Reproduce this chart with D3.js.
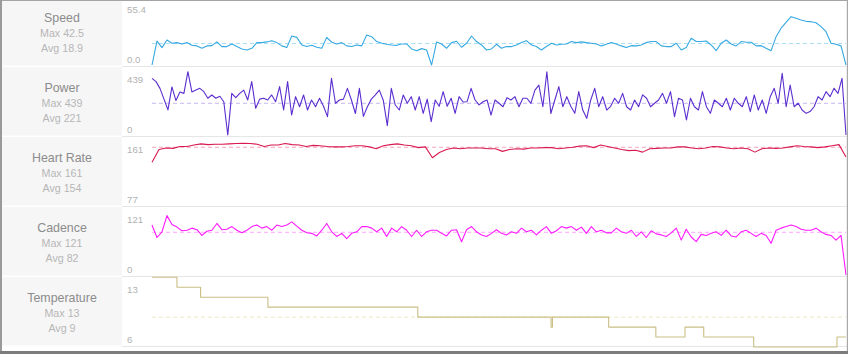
<!DOCTYPE html>
<html>
<head>
<meta charset="utf-8">
<script src="https://cdn.jsdelivr.net/npm/d3@7"></script>
<style>
  html, body { margin: 0; padding: 0; background: #fff; }
  svg { display: block; font-family: "Liberation Sans", Arial, sans-serif; }
</style>
</head>
<body>
<svg id="chart" width="848" height="354"></svg>
<script>
// panel labels
const metricNames = ["Speed", "Power", "Heart Rate", "Cadence", "Temperature"];
const maxLabels = ["Max 42.5", "Max 439", "Max 161", "Max 121", "Max 13"];
const avgLabels = ["Avg 18.9", "Avg 221", "Avg 154", "Avg 82", "Avg 9"];
const axisTop = ["55.4", "439", "161", "121", "13"];
const axisBottom = ["0.0", "0", "77", "0", "6"];
const domains = [[0, 55.4], [0, 439], [77, 161], [0, 121], [6, 13]];
const averages = [18.9, 221, 154, 82, 9];

// samples, equally spaced over the ride
const speedValues = [
  0, 21, 15.3, 22, 19.1, 19.7, 18.5, 19.7, 17.3, 16.8,
  14.7, 16.8, 17, 20.3, 16.2, 16.2, 18.5, 16.2, 14.1, 13.2,
  14.7, 19.7, 19.7, 20.3, 21.4, 19.7, 16.8, 15.3, 25.5, 24.3,
  17.6, 16.2, 17.3, 15.6, 14.7, 24.3, 20, 18.5, 19.7, 16.8,
  16.2, 17.6, 16.8, 26.4, 24.9, 20.6, 19.1, 18.2, 17.6, 17.3,
  18.5, 18.5, 14.1, 12.6, 14.4, 13.2, 0, 20.3, 18.5, 14.7,
  19.7, 20.9, 15.6, 19.1, 25.5, 20.6, 17.6, 13.2, 14.1, 18.2,
  14.7, 16.2, 16.2, 17.6, 19.7, 21.4, 17.6, 16.2, 13.2, 16.2,
  19.1, 17.6, 18.2, 18.5, 20.6, 19.7, 20.3, 19.7, 19.1, 18.5,
  16.8, 18.2, 19.7, 18.5, 16.8, 15.3, 17, 16.8, 17.6, 19.7,
  20.6, 20.6, 16.8, 16.2, 16.2, 19.1, 13.2, 15.3, 23.5, 20.6,
  20.6, 21.1, 17.6, 12.6, 19.1, 22, 18.5, 16.8, 20.6, 20,
  20, 16.8, 17, 14.7, 12.6, 24.9, 32.4, 37.5, 42.5, 41.1,
  39.6, 38.4, 38.1, 37.2, 33.7, 29.3, 19.1, 18.2, 16.8, 0
];

const powerValues = [
  395, 372, 325, 250, 175, 335, 240, 300, 290, 441,
  300, 313, 325, 302, 256, 279, 256, 270, 232, 0,
  290, 260, 290, 313, 244, 372, 186, 250, 256, 244,
  279, 232, 337, 174, 372, 139, 267, 197, 279, 174,
  244, 197, 256, 200, 128, 395, 221, 244, 250, 325,
  244, 150, 325, 130, 197, 250, 280, 313, 240, 65,
  325, 209, 174, 279, 221, 267, 174, 267, 151, 250,
  93, 244, 200, 302, 200, 256, 151, 267, 230, 232,
  325, 244, 210, 232, 244, 139, 244, 221, 197, 260,
  244, 267, 197, 256, 256, 221, 313, 348, 197, 441,
  150, 244, 337, 197, 267, 200, 151, 302, 174, 116,
  244, 325, 197, 267, 174, 200, 256, 221, 290, 197,
  174, 244, 197, 280, 256, 197, 221, 244, 290, 221,
  302, 128, 256, 244, 105, 256, 197, 174, 302, 197,
  151, 244, 221, 197, 256, 174, 256, 221, 197, 267,
  163, 279, 174, 244, 151, 267, 325, 221, 430, 197,
  348, 197, 221, 174, 151, 163, 197, 267, 244, 302,
  267, 325, 290, 395, 0
];

const heartRateValues = [
  134, 151, 153, 152.5, 155, 155, 157, 158.5, 157.5, 158,
  158, 158.5, 159, 159.2, 159, 158, 155, 157, 157, 159,
  157.5, 157, 155, 156.5, 156, 155, 154.5, 154.5, 155, 156,
  156, 154.5, 152, 156, 157.5, 158.5, 157, 156, 153.5, 154.5,
  140, 147, 151, 153, 152, 153, 153, 153, 152, 152,
  148.5, 151, 152, 151.5, 153, 153, 153.5, 153.5, 152, 153,
  154, 155.5, 156, 153.5, 157, 155, 153, 151, 149.5, 150,
  147.5, 152, 152.5, 153, 153, 154.5, 154.5, 153, 152, 153,
  155, 154.5, 153, 152, 153, 152, 147.5, 152, 153, 152.5,
  153, 154.5, 156, 155, 154.5, 153.5, 154.5, 156, 157.5, 141
];

const cadenceValues = [
  96, 72, 83, 114, 97, 92, 85, 86, 90, 87,
  76, 84, 86, 99, 87, 88, 93, 86, 81, 86,
  93, 96, 90, 93, 86, 96, 93, 96, 102, 94,
  86, 81, 80, 75, 86, 99, 83, 74, 80, 70,
  80, 83, 93, 93, 90, 83, 90, 74, 90, 83,
  93, 86, 74, 86, 74, 83, 86, 86, 80, 75,
  86, 87, 64, 87, 93, 83, 77, 74, 80, 87,
  80, 77, 83, 80, 90, 83, 86, 77, 86, 93,
  80, 85, 93, 90, 93, 86, 92, 80, 93, 83,
  86, 81, 81, 90, 83, 80, 86, 74, 83, 72,
  85, 79, 77, 74, 81, 90, 67, 88, 73, 64,
  78, 76, 80, 83, 76, 86, 75, 73, 83, 86,
  80, 74, 80, 76, 61, 86, 90, 93, 96, 93,
  88, 86, 86, 90, 83, 78, 76, 67, 76, 0
];

// temperature only changes in steps: position in the ride (per mille) and new value
const tempAt = [0, 36, 70, 167, 383, 575, 577, 658, 726, 768, 795, 867, 987, 1000];
const tempValues = [13, 12, 11, 10, 9, 8, 9, 8, 7, 8, 7, 6, 7, 7];

const lineColors = ["#36a9e1", "#5b2ecf", "#d81a4f", "#ff19ff", "#cbbf86"];
const dashColors = ["#acdef6", "#c6b7ef", "#f5a4ba", "#ffa6ff", "#efe7c2"];

const W = 848, H = 354;
const rowH = 70, firstTop = -4;
const labelW = 122, plotL = 152, plotR = 846;
// vertical padding of the value range inside each row
const padTop = [6, 6, 6, 6, 1.3];
const padBot = [1, 1, 1, 1, -1];

const svg = d3.select("#chart");

svg.append("rect").attr("width", W).attr("height", H).attr("fill", "#fff");

const rows = d3.range(metricNames.length);

// grey label column
svg.selectAll(".labelbg")
  .data(rows)
  .enter()
  .append("rect")
  .attr("class", "labelbg")
  .attr("x", 2)
  .attr("y", i => Math.max(1, firstTop + i * rowH + 1))
  .attr("width", labelW - 2)
  .attr("height", i => firstTop + i * rowH + rowH - Math.max(1, firstTop + i * rowH + 1) - 0.5)
  .attr("fill", "#f6f6f6");

// row separators on the plot side
svg.selectAll(".sep")
  .data(rows)
  .enter()
  .append("line")
  .attr("x1", labelW).attr("x2", plotR + 1)
  .attr("y1", i => firstTop + (i + 1) * rowH + 0.5)
  .attr("y2", i => firstTop + (i + 1) * rowH + 0.5)
  .attr("stroke", "#e6e6e6");

const series = [speedValues, powerValues, heartRateValues, cadenceValues];

rows.forEach(i => {
  const top = firstTop + i * rowH;
  const y = d3.scaleLinear().domain(domains[i]).range([top + rowH - padBot[i], top + padTop[i]]);
  const g = svg.append("g");

  g.append("text").attr("x", 62).attr("y", top + 25.6)
    .attr("text-anchor", "middle").attr("font-size", 12.4).attr("fill", "#8c8c8c")
    .text(metricNames[i]);
  g.append("text").attr("x", 62).attr("y", top + 41.3)
    .attr("text-anchor", "middle").attr("font-size", 10.7).attr("fill", "#b6b6b6")
    .text(maxLabels[i]);
  g.append("text").attr("x", 62).attr("y", top + 56.3)
    .attr("text-anchor", "middle").attr("font-size", 10.7).attr("fill", "#b6b6b6")
    .text(avgLabels[i]);

  g.append("text").attr("x", 127).attr("y", top + 16.5)
    .attr("font-size", 9.7).attr("fill", "#b2b2b2").text(axisTop[i]);
  g.append("text").attr("x", 127).attr("y", top + 66.6)
    .attr("font-size", 9.7).attr("fill", "#b2b2b2").text(axisBottom[i]);

  // average
  g.append("line")
    .attr("x1", plotL).attr("x2", plotR)
    .attr("y1", y(averages[i])).attr("y2", y(averages[i]))
    .attr("stroke", dashColors[i]).attr("stroke-width", 1)
    .attr("stroke-dasharray", "4,3");

  let path;
  if (i < 4) {
    const vals = series[i];
    const x = d3.scaleLinear().domain([0, vals.length - 1]).range([plotL, plotR]);
    path = d3.line().x((d, k) => x(k)).y(d => y(d))(vals);
  } else {
    const x = d3.scaleLinear().domain([0, 1000]).range([plotL, plotR]);
    path = d3.line().x((d, k) => x(tempAt[k])).y(d => y(d)).curve(d3.curveStepAfter)(tempValues);
  }
  g.append("path")
    .attr("d", path)
    .attr("fill", "none")
    .attr("stroke", lineColors[i])
    .attr("stroke-width", 1.1)
    .attr("stroke-linejoin", "round");
});

// window frame
svg.append("rect").attr("x", 0).attr("y", 0).attr("width", W).attr("height", 1).attr("fill", "#a4a4a4");
svg.append("rect").attr("x", 0).attr("y", 0).attr("width", 2).attr("height", H).attr("fill", "#9a9a9a");
svg.append("rect").attr("x", 846.8).attr("y", 0).attr("width", 1.2).attr("height", H).attr("fill", "#a8a8a8");
svg.append("rect").attr("x", 0).attr("y", 351).attr("width", W).attr("height", 3).attr("fill", "#7c7c7c");
</script>
</body>
</html>
